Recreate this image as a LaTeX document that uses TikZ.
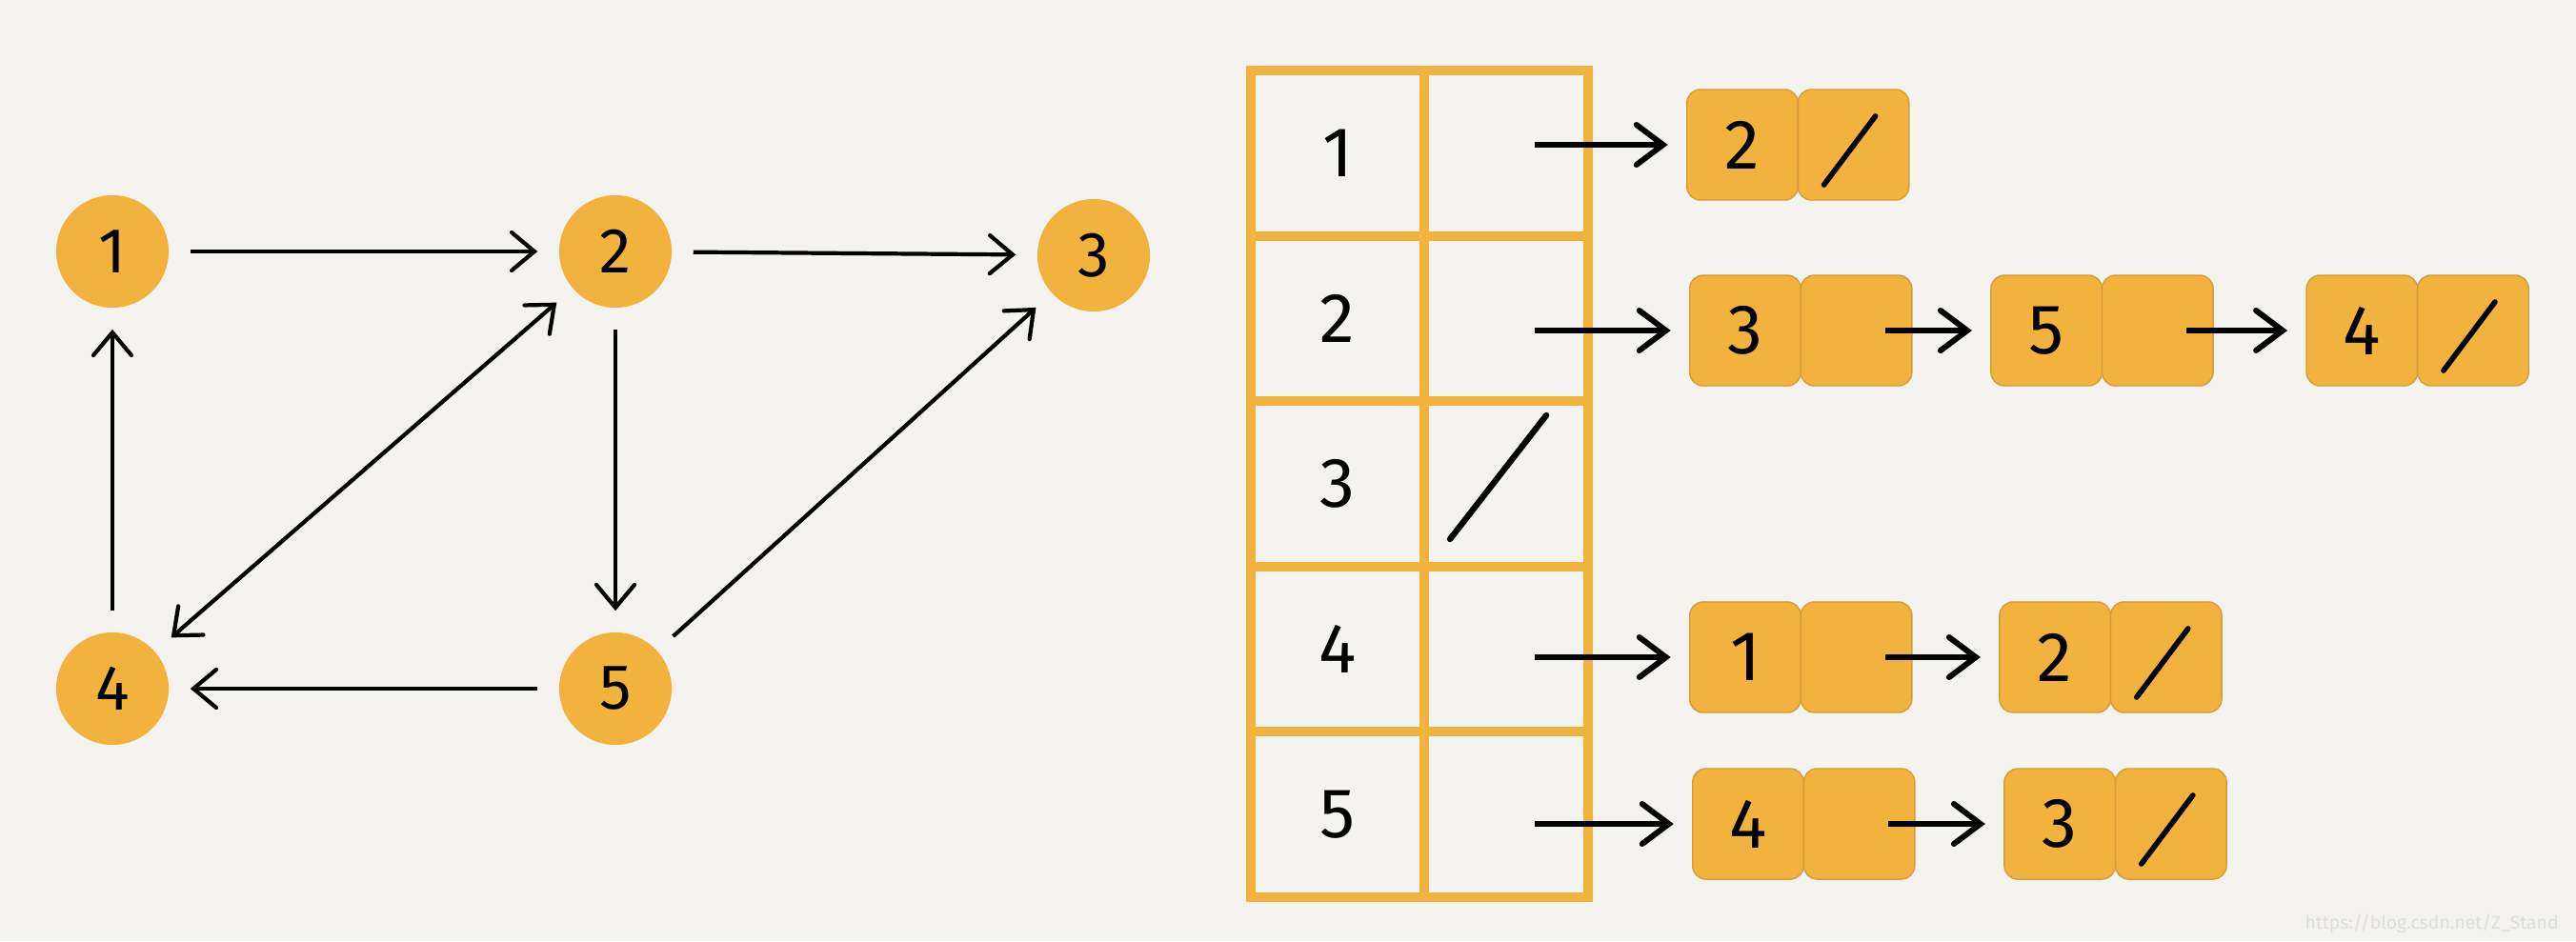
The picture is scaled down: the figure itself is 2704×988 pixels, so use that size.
\documentclass[tikz,border=0pt]{standalone}
\usepackage{fontspec}
\setmainfont{Fira Sans}
\usepackage{xcolor}
\definecolor{nodeorange}{HTML}{F2B23E}
\definecolor{paper}{HTML}{F4F3EF}
\usepackage{tikz}
\usetikzlibrary{positioning,arrows.meta}
\tikzset{
  vtx/.style   ={circle, fill=nodeorange, minimum size=1.18cm, inner sep=0pt,
                 font=\fontsize{19}{20}\selectfont},
  gedge/.style ={-{Straight Barb[length=2.4mm, width=4mm, line cap=round]}, line width=1.2pt,
                 shorten >=0.22cm, shorten <=0.22cm},
  gboth/.style ={gedge, {Straight Barb[length=2.4mm, width=4mm, line cap=round]}-{Straight Barb[length=2.4mm, width=4mm, line cap=round]}},
  keycell/.style ={rectangle, draw=nodeorange, line width=2.8pt, outer sep=0pt,
                 minimum width=1.82cm, minimum height=1.734cm, inner sep=0pt,
                 font=\fontsize{21}{22}\selectfont},
  headcell/.style={keycell, minimum width=1.72cm},
  lcell/.style ={rectangle, rounded corners=4pt, fill=nodeorange, draw=nodeorange!88!black,
                 line width=0.4pt, minimum width=1.165cm, minimum height=1.16cm,
                 inner sep=0pt, outer sep=0pt, font=\fontsize{21}{22}\selectfont},
  nilcell/.style={lcell, path picture={
                 \draw[black, line width=1.6pt, line cap=round]
                   ([shift={(-0.31cm,-0.42cm)}]path picture bounding box.center) --
                   ([shift={(0.23cm,0.3cm)}]path picture bounding box.center);}},
  ptr/.style   ={-{Straight Barb[length=2.8mm, width=4.2mm, line cap=round]}, line width=1.7pt,
                 shorten <=0.3cm, shorten >=0.2cm},
  nil/.style   ={line width=1.8pt, line cap=round},
}

\begin{document}
\begin{tikzpicture}[x=0.01cm, y=-0.01cm]
  \fill[paper] (0,0) rectangle (2704,988);
  \useasboundingbox (0,0) rectangle (2704,988);

  % directed graph
  \node[vtx] (g1) at (118,264) {1};
  \node[vtx] (g2) at (646,264) {2};
  \node[vtx] (g3) at (1148,268) {3};
  \node[vtx] (g4) at (118,723) {4};
  \node[vtx] (g5) at (646,723) {5};
  \draw[gedge] (g1) -- (g2);
  \draw[gedge] (g2) -- (g3);
  \draw[gedge] (g4) -- (g1);
  \draw[gboth] (g2) -- (g4);
  \draw[gedge] (g2) -- (g5);
  \draw[gedge] (g5) -- (g4);
  \draw[gedge] (g5) -- (g3);

  % adjacency table
  \node[keycell] (key1) at (1404,161) {1};
  \node[keycell, below=0mm of key1] (key2) {2};
  \node[keycell, below=0mm of key2] (key3) {3};
  \node[keycell, below=0mm of key3] (key4) {4};
  \node[keycell, below=0mm of key4] (key5) {5};
  \node[headcell, right=0mm of key1] (head1) {};
  \node[headcell, right=0mm of key2] (head2) {};
  \node[headcell, right=0mm of key3] (head3) {};
  \node[headcell, right=0mm of key4] (head4) {};
  \node[headcell, right=0mm of key5] (head5) {};
  \draw[nil] ([shift={(-0.59cm,-0.58cm)}]head3.center) -- ([shift={(0.42cm,0.72cm)}]head3.center);

  % linked lists
  \node[lcell] (v11) at (1829,152) {2};
  \node[nilcell, right=0mm of v11] (nx11) {};

  \node[lcell] (v21) at (1832,347) {3};
  \node[lcell, right=0mm of v21] (nx21) {};
  \node[lcell, right=0.83cm of nx21] (v22) {5};
  \node[lcell, right=0mm of v22] (nx22) {};
  \node[lcell, right=0.98cm of nx22] (v23) {4};
  \node[nilcell, right=0mm of v23] (nx23) {};

  \node[lcell] (v41) at (1832,690) {1};
  \node[lcell, right=0mm of v41] (nx41) {};
  \node[lcell, right=0.92cm of nx41] (v42) {2};
  \node[nilcell, right=0mm of v42] (nx42) {};

  \node[lcell] (v51) at (1835,865) {4};
  \node[lcell, right=0mm of v51] (nx51) {};
  \node[lcell, right=0.94cm of nx51] (v52) {3};
  \node[nilcell, right=0mm of v52] (nx52) {};

  \draw[ptr] (head1.center |- v11.west) -- (v11.west);
  \draw[ptr] (head2.center |- v21.west) -- (v21.west);
  \draw[ptr] (head4.center |- v41.west) -- (v41.west);
  \draw[ptr] (head5.center |- v51.west) -- (v51.west);
  \draw[ptr] (nx21.center) -- (v22.west);
  \draw[ptr] (nx22.center) -- (v23.west);
  \draw[ptr] (nx41.center) -- (v42.west);
  \draw[ptr] (nx51.center) -- (v52.west);

  \node[text=black!13, font=\fontsize{5.5}{6}\selectfont, anchor=east] (mark) at (2698,970) {https://blog.csdn.net/Z\_Stand};
\end{tikzpicture}
\end{document}
